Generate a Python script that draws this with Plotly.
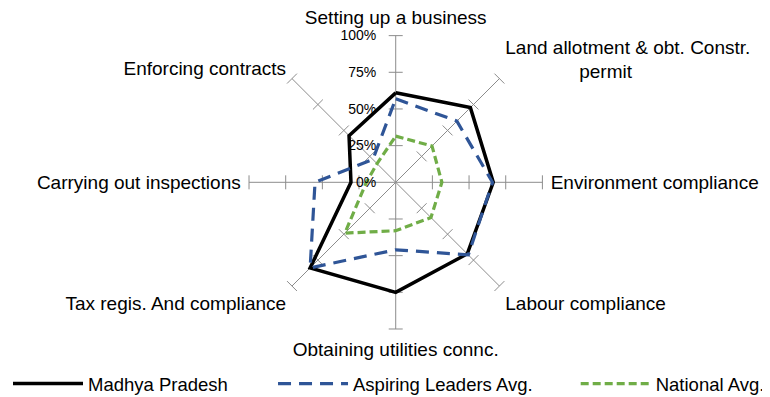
import plotly.graph_objects as go

categories = ["Setting up a business", "Land allotment & obt. Constr. permit",
              "Environment compliance", "Labour compliance",
              "Obtaining utilities connc.", "Tax regis. And compliance",
              "Carrying out inspections", "Enforcing contracts"]
NB = "\u00a0"
tick_labels = ["Setting up a business",
               "Land allotment & obt. Constr.<br>" + NB * 14 + "permit",
               "Environment compliance", "Labour compliance",
               "Obtaining utilities connc.", "Tax regis. And compliance",
               "Carrying out inspections", "Enforcing contracts"]
madhya_pradesh = [61, 72, 66.5, 69, 75, 82.5, 30.5, 45]
aspiring_leaders = [57, 59, 66, 70, 46, 82.5, 55, 22]
national_avg = [31.5, 35, 31.5, 34, 33, 49, 20, 18]
radial_ticks = [0, 25, 50, 75, 100]
radial_tick_text = ["0%", "25%", "50%", "75%", "100%"]

FONT = "Liberation Sans, Arial, sans-serif"
GRID = "#8c8c8c"

def closed(vals):
    return list(vals) + [vals[0]]

fig = go.Figure()

# spoke tick marks (perpendicular to each spoke)
tr, tt, ta = [], [], []
for i, c in enumerate(categories):
    for v in radial_ticks[1:]:
        tr.append(v)
        tt.append(c)
        ta.append(45 * i)
fig.add_trace(go.Scatterpolar(
    r=tr, theta=tt, mode="markers", showlegend=False, hoverinfo="skip",
    marker=dict(symbol="line-ew", size=10, angle=ta,
                line=dict(color=GRID, width=1), color=GRID)))

series = [
    ("Madhya Pradesh", madhya_pradesh, dict(color="#000000", width=3.5), "legend"),
    ("Aspiring Leaders Avg.", aspiring_leaders, dict(color="#2F5597", width=3.2, dash="13px,8px"), "legend2"),
    ("National Avg.", national_avg, dict(color="#70AD47", width=3.2, dash="8px,4px"), "legend3"),
]
for name, vals, line, leg in series:
    fig.add_trace(go.Scatterpolar(
        r=closed(vals), theta=closed(categories), mode="lines", name=name,
        line=line, legend=leg))

legend_common = dict(orientation="h", yanchor="middle", xanchor="left", y=0.0334,
                     font=dict(family=FONT, size=18.5, color="#000"),
                     bgcolor="rgba(0,0,0,0)", itemwidth=70)

fig.update_layout(
    width=762, height=389,
    margin=dict(l=0, r=0, t=0, b=0, autoexpand=False),
    paper_bgcolor="white",
    font=dict(family=FONT, size=19, color="#000"),
    polar=dict(
        domain=dict(x=[0.3163, 0.7013], y=[0.1748, 0.9290]),
        bgcolor="rgba(0,0,0,0)",
        radialaxis=dict(range=[0, 100], tickmode="array", tickvals=radial_ticks,
                        ticktext=radial_tick_text, tickangle=90,
                        showline=False, showgrid=False, angle=90,
                        ticks="outside", ticklen=14, tickcolor="rgba(0,0,0,0)",
                        side="counterclockwise",
                        tickfont=dict(family=FONT, size=14, color="#000")),
        angularaxis=dict(type="category", categoryarray=categories,
                         tickmode="array", tickvals=categories, ticktext=tick_labels,
                         direction="clockwise", rotation=90,
                         showline=False, showgrid=True, gridcolor=GRID, gridwidth=1,
                         ticks="outside", ticklen=4, tickcolor="rgba(0,0,0,0)",
                         tickfont=dict(family=FONT, size=19, color="#000")),
    ),
    legend=dict(x=0.0, **legend_common),
    legend2=dict(x=0.3478, **legend_common),
    legend3=dict(x=0.745, **legend_common),
)

fig.write_html("out.html")
